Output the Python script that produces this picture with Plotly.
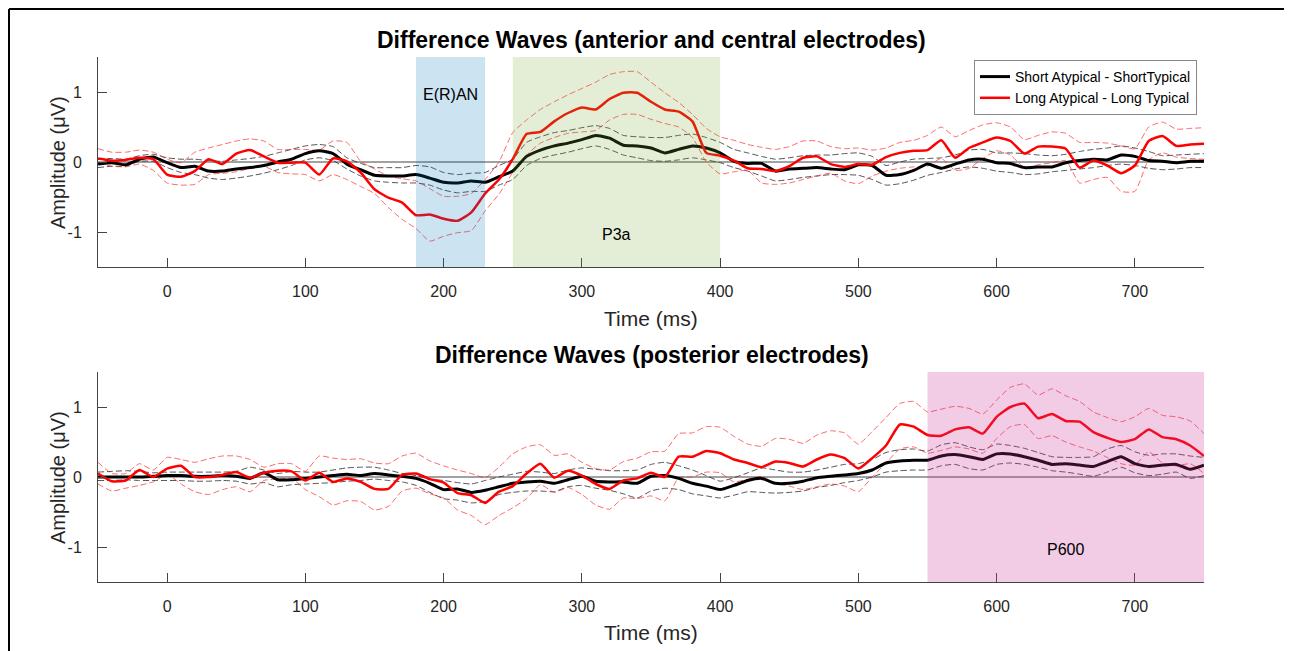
import plotly.graph_objects as go
from plotly.subplots import make_subplots

# ---------------- data ----------------
time_ms = list(range(-50, 751, 10))

# top panel: anterior & central electrodes
top_short_mean = [-0.03, -0.01, -0.04, 0.04, 0.07, -0.01, -0.08, -0.06, -0.13, -0.13,
                  -0.10, -0.08, -0.05, 0.00, 0.04, 0.12, 0.16, 0.12, -0.03, -0.11,
                  -0.19, -0.20, -0.20, -0.18, -0.23, -0.29, -0.30, -0.27, -0.29, -0.21,
                  -0.13, 0.08, 0.17, 0.23, 0.27, 0.32, 0.38, 0.34, 0.24, 0.23,
                  0.20, 0.13, 0.18, 0.23, 0.20, 0.13, 0.01, -0.02, -0.02, -0.13,
                  -0.10, -0.09, -0.08, -0.10, -0.11, -0.04, -0.05, -0.19, -0.18, -0.12,
                  -0.03, -0.09, -0.03, 0.03, 0.04, -0.01, -0.02, -0.08, -0.07, -0.07,
                  -0.01, 0.02, 0.04, 0.03, 0.10, 0.08, 0.02, 0.01, -0.01, 0.01,
                  0.01]
top_short_upper = [0.04, 0.05, 0.04, 0.09, 0.11, 0.06, 0.04, 0.04, 0.02, 0.01,
                   0.03, 0.05, 0.08, 0.13, 0.18, 0.23, 0.25, 0.22, 0.06, -0.02,
                   -0.08, -0.08, -0.08, -0.05, -0.07, -0.15, -0.18, -0.16, -0.15, -0.05,
                   0.04, 0.28, 0.36, 0.42, 0.45, 0.49, 0.52, 0.48, 0.38, 0.36,
                   0.35, 0.35, 0.38, 0.40, 0.35, 0.28, 0.18, 0.13, 0.08, 0.04,
                   0.06, 0.09, 0.10, 0.10, 0.12, 0.13, 0.08, -0.05, 0.00, 0.04,
                   0.05, 0.06, 0.10, 0.17, 0.18, 0.13, 0.13, 0.12, 0.10, 0.09,
                   0.11, 0.15, 0.18, 0.20, 0.23, 0.20, 0.15, 0.09, 0.10, 0.11,
                   0.12]
top_short_lower = [-0.08, -0.06, -0.06, 0.01, 0.01, -0.08, -0.15, -0.18, -0.23, -0.25,
                   -0.23, -0.20, -0.16, -0.11, -0.05, 0.03, 0.06, 0.02, -0.10, -0.20,
                   -0.27, -0.29, -0.30, -0.30, -0.33, -0.40, -0.44, -0.42, -0.42, -0.33,
                   -0.25, -0.05, 0.05, 0.10, 0.14, 0.19, 0.23, 0.18, 0.10, 0.06,
                   0.02, 0.01, 0.03, 0.06, 0.03, -0.01, -0.08, -0.13, -0.20, -0.27,
                   -0.25, -0.22, -0.20, -0.18, -0.18, -0.19, -0.25, -0.33, -0.31, -0.26,
                   -0.19, -0.15, -0.10, -0.07, -0.09, -0.13, -0.15, -0.18, -0.17, -0.14,
                   -0.12, -0.10, -0.08, -0.05, -0.03, -0.05, -0.09, -0.11, -0.10, -0.08,
                   -0.08]
top_long_mean = [0.05, 0.02, 0.03, 0.06, 0.04, -0.18, -0.21, -0.13, 0.04, -0.03,
                 0.12, 0.17, 0.08, -0.01, -0.01, -0.01, -0.18, 0.05, 0.01, -0.15,
                 -0.39, -0.51, -0.58, -0.76, -0.75, -0.81, -0.84, -0.72, -0.45, -0.25,
                 0.04, 0.40, 0.43, 0.58, 0.70, 0.78, 0.75, 0.90, 0.99, 0.99,
                 0.86, 0.75, 0.72, 0.58, 0.13, 0.09, 0.02, -0.09, -0.10, -0.13,
                 -0.06, 0.06, 0.08, -0.03, -0.07, -0.03, -0.04, 0.07, 0.13, 0.16,
                 0.17, 0.31, 0.06, 0.20, 0.28, 0.35, 0.30, 0.12, 0.22, 0.22,
                 0.19, -0.08, 0.02, -0.05, -0.16, -0.05, 0.30, 0.37, 0.23, 0.25,
                 0.26]
top_long_upper = [0.19, 0.14, 0.14, 0.17, 0.14, 0.04, -0.01, 0.14, 0.20, 0.25,
                  0.30, 0.33, 0.30, 0.18, 0.18, 0.18, 0.17, 0.30, 0.28, 0.01,
                  -0.10, -0.20, -0.24, -0.27, -0.38, -0.49, -0.49, -0.45, -0.25, 0.00,
                  0.42, 0.60, 0.75, 0.86, 0.96, 1.05, 1.14, 1.25, 1.29, 1.29,
                  1.14, 0.99, 0.85, 0.68, 0.48, 0.36, 0.31, 0.25, 0.21, 0.18,
                  0.22, 0.30, 0.30, 0.22, 0.19, 0.20, 0.17, 0.20, 0.28, 0.31,
                  0.38, 0.50, 0.36, 0.45, 0.53, 0.56, 0.50, 0.32, 0.38, 0.43,
                  0.41, 0.28, 0.28, 0.27, 0.23, 0.19, 0.50, 0.57, 0.47, 0.48,
                  0.49]
top_long_lower = [-0.01, -0.06, -0.07, -0.03, -0.12, -0.30, -0.33, -0.32, -0.18, -0.16,
                  -0.14, -0.09, -0.06, -0.15, -0.17, -0.18, -0.27, -0.18, -0.25, -0.35,
                  -0.45, -0.65, -0.82, -0.95, -1.13, -1.06, -1.01, -0.98, -0.70, -0.46,
                  -0.15, 0.10, 0.27, 0.35, 0.41, 0.43, 0.45, 0.60, 0.68, 0.68,
                  0.61, 0.55, 0.50, 0.35, 0.00, -0.17, -0.14, -0.12, -0.30, -0.32,
                  -0.30, -0.25, -0.20, -0.16, -0.27, -0.31, -0.20, -0.13, -0.09, -0.07,
                  -0.06, 0.05, -0.12, -0.09, 0.05, 0.16, 0.10, -0.08, -0.04, -0.01,
                  0.02, -0.30, -0.25, -0.22, -0.42, -0.42, 0.03, 0.13, 0.07, 0.05,
                  0.04]

# bottom panel: posterior electrodes
bot_short_mean = [0.00, 0.00, 0.00, 0.00, 0.01, 0.02, 0.02, 0.01, 0.01, 0.02,
                  0.01, -0.02, 0.06, -0.04, -0.04, -0.02, 0.00, 0.02, 0.04, 0.02,
                  0.05, 0.03, 0.01, -0.02, -0.09, -0.18, -0.17, -0.22, -0.19, -0.14,
                  -0.09, -0.07, -0.06, -0.09, -0.04, 0.01, -0.06, -0.07, -0.07, -0.09,
                  0.01, 0.02, -0.02, -0.09, -0.13, -0.18, -0.12, -0.05, -0.02, -0.09,
                  -0.09, -0.06, -0.01, 0.01, 0.03, 0.05, 0.10, 0.20, 0.23, 0.24,
                  0.24, 0.30, 0.32, 0.29, 0.25, 0.33, 0.33, 0.29, 0.24, 0.18,
                  0.19, 0.17, 0.15, 0.22, 0.29, 0.19, 0.15, 0.17, 0.18, 0.11,
                  0.17]
bot_short_upper = [0.07, 0.08, 0.09, 0.08, 0.06, 0.07, 0.07, 0.07, 0.07, 0.07,
                   0.08, 0.14, 0.10, 0.05, 0.08, 0.07, 0.07, 0.10, 0.13, 0.14,
                   0.14, 0.10, 0.05, 0.02, -0.03, -0.05, -0.08, -0.10, -0.05, 0.00,
                   0.04, 0.08, 0.07, 0.05, 0.10, 0.13, 0.11, 0.09, 0.09, 0.10,
                   0.18, 0.21, 0.16, 0.10, 0.02, -0.06, -0.01, 0.06, 0.13, 0.10,
                   0.07, 0.07, 0.10, 0.14, 0.18, 0.19, 0.25, 0.35, 0.39, 0.40,
                   0.37, 0.46, 0.49, 0.43, 0.39, 0.47, 0.45, 0.41, 0.35, 0.29,
                   0.28, 0.28, 0.29, 0.40, 0.45, 0.36, 0.31, 0.33, 0.33, 0.30,
                   0.28]
bot_short_lower = [-0.05, -0.05, -0.04, -0.05, -0.05, -0.05, -0.05, -0.06, -0.06, -0.05,
                   -0.06, -0.10, -0.08, -0.14, -0.11, -0.10, -0.09, -0.08, -0.06, -0.05,
                   -0.03, -0.05, -0.07, -0.12, -0.22, -0.31, -0.33, -0.37, -0.35, -0.25,
                   -0.22, -0.20, -0.20, -0.21, -0.14, -0.12, -0.16, -0.19, -0.24, -0.30,
                   -0.20, -0.16, -0.18, -0.24, -0.27, -0.30, -0.26, -0.21, -0.22, -0.23,
                   -0.22, -0.20, -0.15, -0.12, -0.08, -0.05, 0.00, 0.07, 0.09, 0.10,
                   0.10, 0.16, 0.18, 0.12, 0.10, 0.18, 0.20, 0.18, 0.14, 0.09,
                   0.07, 0.04, 0.01, 0.07, 0.14, 0.06, 0.02, 0.04, 0.07, -0.02,
                   0.02]
bot_long_mean = [0.05, -0.06, -0.05, 0.10, 0.00, 0.12, 0.16, 0.00, 0.00, 0.03,
                 0.07, -0.01, 0.06, 0.09, 0.08, -0.05, 0.06, -0.07, -0.02, -0.07,
                 -0.17, -0.17, 0.03, 0.05, -0.03, -0.08, -0.23, -0.26, -0.37, -0.21,
                 -0.13, 0.05, 0.19, -0.01, 0.09, 0.02, -0.10, -0.17, -0.05, -0.02,
                 0.06, 0.00, 0.29, 0.29, 0.37, 0.34, 0.25, 0.20, 0.14, 0.22,
                 0.20, 0.15, 0.25, 0.32, 0.27, 0.12, 0.27, 0.45, 0.75, 0.72,
                 0.60, 0.59, 0.68, 0.71, 0.62, 0.86, 1.00, 1.05, 0.84, 0.90,
                 0.80, 0.79, 0.64, 0.56, 0.50, 0.54, 0.68, 0.57, 0.54, 0.45,
                 0.30]
bot_long_upper = [0.21, 0.05, 0.05, 0.19, 0.10, 0.28, 0.25, 0.21, 0.26, 0.30,
                  0.30, 0.25, 0.14, 0.19, 0.19, 0.08, 0.30, 0.27, 0.25, 0.26,
                  0.20, 0.19, 0.30, 0.34, 0.23, 0.16, 0.10, 0.05, -0.01, 0.14,
                  0.33, 0.43, 0.46, 0.31, 0.33, 0.21, 0.12, 0.10, 0.22, 0.27,
                  0.36, 0.37, 0.62, 0.63, 0.72, 0.71, 0.58, 0.47, 0.44, 0.55,
                  0.54, 0.48, 0.60, 0.66, 0.63, 0.47, 0.65, 0.85, 1.05, 1.08,
                  0.93, 0.97, 1.01, 0.98, 0.90, 1.10, 1.28, 1.33, 1.17, 1.26,
                  1.16, 1.08, 0.93, 0.85, 0.79, 0.86, 0.98, 0.88, 0.86, 0.80,
                  0.62]
bot_long_lower = [-0.10, -0.20, -0.16, -0.12, -0.07, 0.04, -0.10, -0.21, -0.25, -0.18,
                  -0.14, -0.21, -0.05, -0.03, -0.02, -0.18, -0.28, -0.40, -0.34, -0.35,
                  -0.47, -0.42, -0.20, -0.16, -0.24, -0.30, -0.47, -0.55, -0.68, -0.55,
                  -0.44, -0.31, -0.11, -0.22, -0.15, -0.25, -0.40, -0.46, -0.30, -0.31,
                  -0.27, -0.34, -0.01, 0.00, 0.07, 0.06, -0.07, -0.03, 0.01, -0.09,
                  -0.13, -0.18, -0.14, -0.10, -0.13, -0.21, 0.00, 0.20, 0.40, 0.43,
                  0.34, 0.38, 0.43, 0.40, 0.34, 0.55, 0.72, 0.75, 0.55, 0.59,
                  0.50, 0.43, 0.37, 0.28, 0.19, 0.17, 0.36, 0.20, 0.16, 0.19,
                  0.05]

# components: (panel, start, end, label, label_x, label_y, rgba)
components = [
    (1, 180, 230, "E(R)AN", 205, 0.96, "rgba(0,114,189,0.2)"),
    (1, 250, 400, "P3a", 325, -1.03, "rgba(119,172,48,0.2)"),
    (2, 550, 750, "P600", 650, -1.03, "rgba(204,51,153,0.25)"),
]
titles = ["Difference Waves (anterior and central electrodes)",
          "Difference Waves (posterior electrodes)"]
legend_names = ["Short Atypical - ShortTypical", "Long Atypical - Long Typical"]
x_ticks = [0, 100, 200, 300, 400, 500, 600, 700]
y_ticks = [-1, 0, 1]
y_ticktext = ["-1", "0", "1"]

# ---------------- figure ----------------
# the page body has an 8px margin, so the figure is drawn 8px in from the window corner
OFF = 8
W, H = 1292 - OFF, 651 - OFF
FONT = "Liberation Sans, Arial, Helvetica, sans-serif"
fig = make_subplots(rows=2, cols=1)

panels = [
    (1, top_short_mean, top_short_upper, top_short_lower, top_long_mean, top_long_upper, top_long_lower),
    (2, bot_short_mean, bot_short_upper, bot_short_lower, bot_long_mean, bot_long_upper, bot_long_lower),
]
SMOOTH = 0.5
for row, sm, su, sl, lm, lu, ll in panels:
    for arr in (su, sl):
        fig.add_trace(go.Scatter(x=time_ms, y=arr, mode="lines", showlegend=False, hoverinfo="skip",
                                 line=dict(color="rgba(40,40,40,0.8)", width=1, dash="6px,3px",
                                           shape="spline", smoothing=SMOOTH)),
                      row=row, col=1)
    for arr in (lu, ll):
        fig.add_trace(go.Scatter(x=time_ms, y=arr, mode="lines", showlegend=False, hoverinfo="skip",
                                 line=dict(color="rgba(255,40,40,0.7)", width=1, dash="6px,3px",
                                           shape="spline", smoothing=SMOOTH)),
                      row=row, col=1)
    fig.add_trace(go.Scatter(x=time_ms, y=sm, mode="lines", name=legend_names[0], showlegend=(row == 1),
                             line=dict(color="#000000", width=3, shape="spline", smoothing=SMOOTH)),
                  row=row, col=1)
    fig.add_trace(go.Scatter(x=time_ms, y=lm, mode="lines", name=legend_names[1], showlegend=(row == 1),
                             line=dict(color="#ff0000", width=2.5, shape="spline", smoothing=SMOOTH)),
                  row=row, col=1)


def px_x(p):
    return (p - OFF) / W


def px_y(p):
    return 1 - (p - OFF) / H


xdom = [px_x(98), px_x(1204)]
ydoms = {1: [px_y(267), px_y(57)], 2: [px_y(582), px_y(372)]}

axis_common = dict(showline=True, linecolor="#444444", linewidth=1, ticks="inside", ticklen=9,
                   tickcolor="#444444", showgrid=False, zeroline=False, mirror=False,
                   tickfont=dict(family=FONT, size=16, color="#262626"))
for row in (1, 2):
    xa = "xaxis" if row == 1 else "xaxis2"
    ya = "yaxis" if row == 1 else "yaxis2"
    fig.layout[xa].update(domain=xdom, range=[-50, 750], tickvals=x_ticks, ticklabelstandoff=10,
                          **axis_common)
    fig.layout[ya].update(domain=ydoms[row], range=[-1.5, 1.5], tickvals=y_ticks, ticktext=y_ticktext,
                          ticklabelstandoff=12, **axis_common)

shapes = []
annotations = []
for row in (1, 2):
    xr = "x" if row == 1 else "x2"
    yr = "y" if row == 1 else "y2"
    shapes.append(dict(type="line", xref=xr, yref=yr, x0=-50, x1=750, y0=0, y1=0,
                       line=dict(color="#444444", width=1), layer="below"))
for row, x0, x1, label, lx, ly, col in components:
    xr = "x" if row == 1 else "x2"
    yr = "y" if row == 1 else "y2"
    shapes.append(dict(type="rect", xref=xr, yref=yr, x0=x0, x1=x1, y0=-1.5, y1=1.5,
                       fillcolor=col, line=dict(width=0), layer="above"))
    annotations.append(dict(xref=xr, yref=yr, x=lx, y=ly, text=label, showarrow=False,
                            font=dict(family=FONT, size=16, color="#000000")))

# titles and axis labels
title_y = [40, 355]
xlabel_y = [318, 632]
ylabel_y = [163, 478]
for i in range(2):
    annotations.append(dict(xref="paper", yref="paper", x=px_x(652), y=px_y(title_y[i]), text="<b>%s</b>" % titles[i],
                            showarrow=False, xanchor="center", yanchor="middle",
                            font=dict(family=FONT, size=23, color="#000000")))
    annotations.append(dict(xref="paper", yref="paper", x=px_x(651), y=px_y(xlabel_y[i]), text="Time (ms)",
                            showarrow=False, xanchor="center", yanchor="middle",
                            font=dict(family=FONT, size=21, color="#262626")))
    annotations.append(dict(xref="paper", yref="paper", x=px_x(58), y=px_y(ylabel_y[i]), text="Amplitude (μV)",
                            showarrow=False, xanchor="center", yanchor="middle", textangle=-90,
                            font=dict(family=FONT, size=20, color="#262626")))

# outer frame (top and left edges)
shapes.append(dict(type="line", xref="paper", yref="paper", x0=px_x(9), x1=1, y0=px_y(9), y1=px_y(9),
                   line=dict(color="#000000", width=2), layer="above"))
shapes.append(dict(type="line", xref="paper", yref="paper", x0=px_x(9), x1=px_x(9), y0=0, y1=px_y(9),
                   line=dict(color="#000000", width=2), layer="above"))

fig.update_layout(
    width=W, height=H, margin=dict(l=0, r=0, t=0, b=0),
    paper_bgcolor="white", plot_bgcolor="white",
    shapes=shapes, annotations=annotations,
    showlegend=True,
    legend=dict(x=px_x(1197), y=px_y(60), xanchor="right", yanchor="top",
                bgcolor="white", bordercolor="#888888", borderwidth=1,
                font=dict(family=FONT, size=14, color="#000000"),
                tracegroupgap=0, itemwidth=30),
)

fig.write_html("out.html")
